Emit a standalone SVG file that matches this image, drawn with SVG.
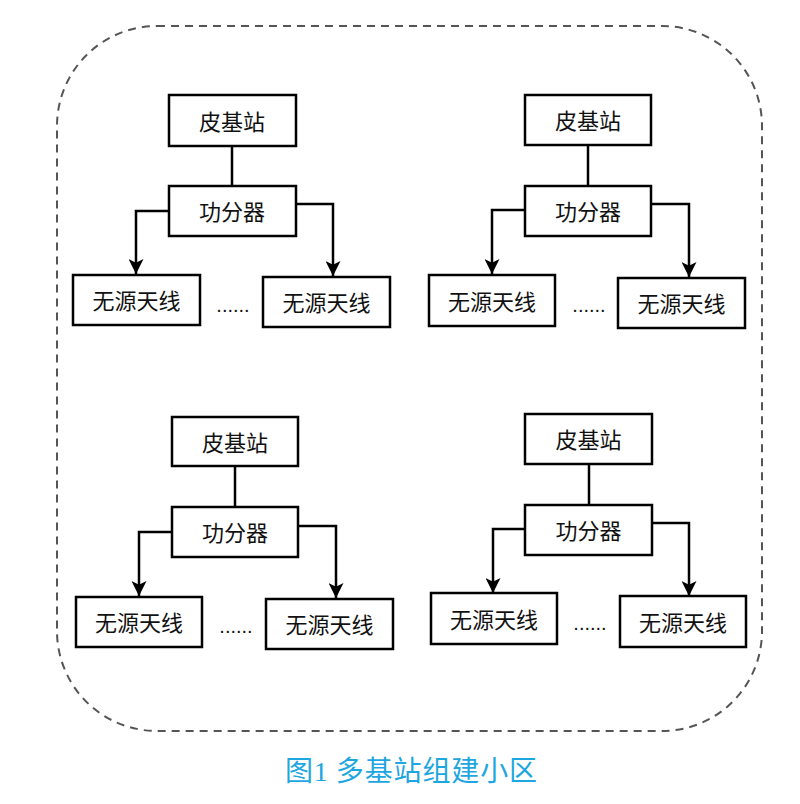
<svg xmlns="http://www.w3.org/2000/svg" width="800" height="804" viewBox="0 0 800 804">
<defs>
<style>
.box{fill:#fff;stroke:#000;stroke-width:2.5}
.lbl{font-family:"Noto Sans CJK SC","Noto Sans",sans-serif;font-size:22px;fill:#111;text-anchor:middle;dominant-baseline:central}
.con{fill:none;stroke:#000;stroke-width:2.5}
.dots{font-family:"Liberation Sans",sans-serif;font-size:20px;fill:#111;text-anchor:middle}
</style>
<marker id="arr" viewBox="0 0 12 12" markerWidth="15" markerHeight="15" refX="12" refY="6" orient="auto" markerUnits="userSpaceOnUse">
<path d="M0,0 L12,6 L0,12 L3,6 Z" fill="#000"/>
</marker>
</defs>
<rect x="57" y="26" width="705" height="705" rx="100" ry="100" fill="none" stroke="#555" stroke-width="2" stroke-dasharray="8 6"/>

<g id="connectors">
<line class="con" x1="232" y1="146" x2="232" y2="186"/>
<polyline class="con" points="169,211 136,211 136,274" marker-end="url(#arr)"/>
<polyline class="con" points="296,204 333,204 333,276" marker-end="url(#arr)"/>
<line class="con" x1="588" y1="145" x2="588" y2="186"/>
<polyline class="con" points="525,210 492,210 492,274" marker-end="url(#arr)"/>
<polyline class="con" points="651,204 689,204 689,277" marker-end="url(#arr)"/>
<line class="con" x1="235" y1="466" x2="235" y2="507"/>
<polyline class="con" points="172,532 139,532 139,596" marker-end="url(#arr)"/>
<polyline class="con" points="298,526 336,526 336,598" marker-end="url(#arr)"/>
<line class="con" x1="589" y1="464" x2="589" y2="505"/>
<polyline class="con" points="525,529 493,529 493,593" marker-end="url(#arr)"/>
<polyline class="con" points="652,523 689,523 689,596" marker-end="url(#arr)"/>
</g>

<g id="bs1"><rect class="box" x="169" y="95" width="127" height="51"/><text class="lbl" x="232" y="119.5">皮基站</text></g>
<g id="pd1"><rect class="box" x="169" y="186" width="127" height="50"/><text class="lbl" x="232" y="210">功分器</text></g>
<g id="ant1a"><rect class="box" x="73" y="275" width="127" height="50"/><text class="lbl" x="136.5" y="299">无源天线</text></g>
<g id="ant1b"><rect class="box" x="263" y="277" width="127" height="50"/><text class="lbl" x="326.5" y="301">无源天线</text></g>
<text class="dots" x="233" y="312">......</text>

<g id="bs2"><rect class="box" x="525" y="95" width="126" height="50"/><text class="lbl" x="588" y="119">皮基站</text></g>
<g id="pd2"><rect class="box" x="525" y="186" width="126" height="50"/><text class="lbl" x="588" y="210">功分器</text></g>
<g id="ant2a"><rect class="box" x="429" y="275" width="126" height="51"/><text class="lbl" x="492" y="299.5">无源天线</text></g>
<g id="ant2b"><rect class="box" x="618" y="278" width="127" height="50"/><text class="lbl" x="681.5" y="302">无源天线</text></g>
<text class="dots" x="589" y="312">......</text>

<g id="bs3"><rect class="box" x="172" y="417" width="126" height="49"/><text class="lbl" x="235" y="440.5">皮基站</text></g>
<g id="pd3"><rect class="box" x="172" y="507" width="126" height="50"/><text class="lbl" x="235" y="531">功分器</text></g>
<g id="ant3a"><rect class="box" x="76" y="597" width="126" height="50"/><text class="lbl" x="139" y="621">无源天线</text></g>
<g id="ant3b"><rect class="box" x="266" y="599" width="127" height="50"/><text class="lbl" x="329.5" y="623">无源天线</text></g>
<text class="dots" x="236" y="633">......</text>

<g id="bs4"><rect class="box" x="525" y="414" width="127" height="50"/><text class="lbl" x="588.5" y="438">皮基站</text></g>
<g id="pd4"><rect class="box" x="525" y="505" width="127" height="50"/><text class="lbl" x="588.5" y="529">功分器</text></g>
<g id="ant4a"><rect class="box" x="431" y="593" width="126" height="51"/><text class="lbl" x="494" y="617.5">无源天线</text></g>
<g id="ant4b"><rect class="box" x="620" y="596" width="126" height="51"/><text class="lbl" x="683" y="620.5">无源天线</text></g>
<text class="dots" x="590" y="630">......</text>

<text x="411" y="781" font-family="'Noto Sans CJK SC',sans-serif" font-size="28" fill="#1ea6e0" text-anchor="middle" textLength="252">图<tspan font-family="'Liberation Serif',serif">1</tspan> 多基站组建小区</text>
</svg>
